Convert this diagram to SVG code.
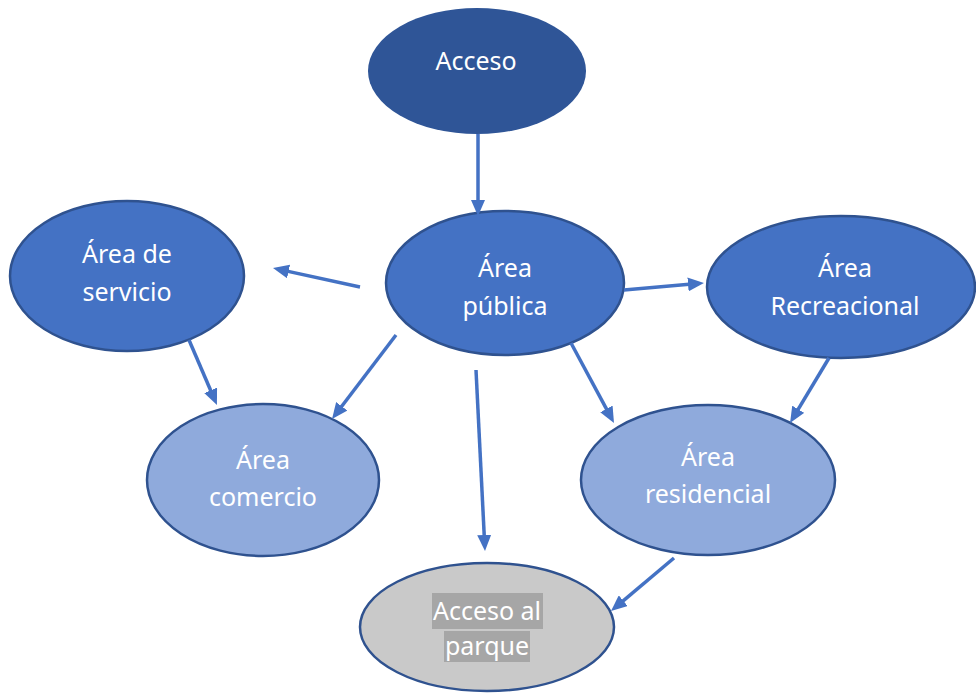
<svg xmlns="http://www.w3.org/2000/svg" width="976" height="694" viewBox="0 0 976 694">
<style>
.t{font-family:"Noto Sans","Open Sans","Liberation Sans",sans-serif;font-size:25px;fill:#ffffff;text-anchor:middle}
.dk{fill:#2F5597}
.md{fill:#4472C4;stroke:#2F528F;stroke-width:2.5}
.lt{fill:#8FAADC;stroke:#2F528F;stroke-width:2.5}
.gr{fill:#C9C9C9;stroke:#2F528F;stroke-width:2.5}
.c line{stroke:#4472C4;stroke-width:3.5;marker-end:url(#ah)}
</style>
<defs>
<marker id="ah" markerUnits="userSpaceOnUse" markerWidth="16" markerHeight="14" refX="4" refY="7" orient="auto">
<path d="M0,0 L16,7 L0,14 z" fill="#4472C4"/>
</marker>
</defs>
<rect width="976" height="694" fill="#ffffff"/>
<g id="n-acceso"><ellipse class="dk" cx="477" cy="71" rx="109" ry="63"/><text class="t" x="476" y="70">Acceso</text></g>
<g id="n-servicio"><ellipse class="md" cx="127" cy="276" rx="117" ry="75"/><text class="t" x="127" y="263">Área de</text><text class="t" x="127" y="301">servicio</text></g>
<g id="n-publica"><ellipse class="md" cx="505" cy="283" rx="119" ry="72"/><text class="t" x="505" y="277">Área</text><text class="t" x="505" y="315">pública</text></g>
<g id="n-recreacional"><ellipse class="md" cx="841" cy="287" rx="134" ry="71"/><text class="t" x="845" y="277">Área</text><text class="t" x="845" y="315">Recreacional</text></g>
<g id="n-comercio"><ellipse class="lt" cx="263" cy="480" rx="116" ry="76"/><text class="t" x="263" y="469">Área</text><text class="t" x="263" y="506">comercio</text></g>
<g id="n-residencial"><ellipse class="lt" cx="708" cy="480" rx="127" ry="75"/><text class="t" x="708" y="466">Área</text><text class="t" x="708" y="503">residencial</text></g>
<g id="n-parque"><ellipse class="gr" cx="487" cy="627" rx="127" ry="64"/>
<rect x="432" y="593" width="111" height="36" fill="#A6A6A6"/><rect x="444" y="631" width="86" height="31" fill="#A6A6A6"/>
<text class="t" x="487" y="620">Acceso al</text><text class="t" x="487" y="655">parque</text></g>
<g id="connectors" class="c">
<line x1="478" y1="134" x2="478" y2="204"/>
<line x1="360" y1="287" x2="284.7" y2="270.6"/>
<line x1="624" y1="290" x2="692" y2="284"/>
<line x1="396" y1="335" x2="339.3" y2="409.5"/>
<line x1="476" y1="370" x2="484.4" y2="539"/>
<line x1="571" y1="343" x2="608.3" y2="412.4"/>
<line x1="189" y1="340" x2="212.2" y2="394"/>
<line x1="829" y1="358" x2="796.2" y2="412.7"/>
<line x1="674" y1="558" x2="620.2" y2="603.3"/>
</g>
</svg>
